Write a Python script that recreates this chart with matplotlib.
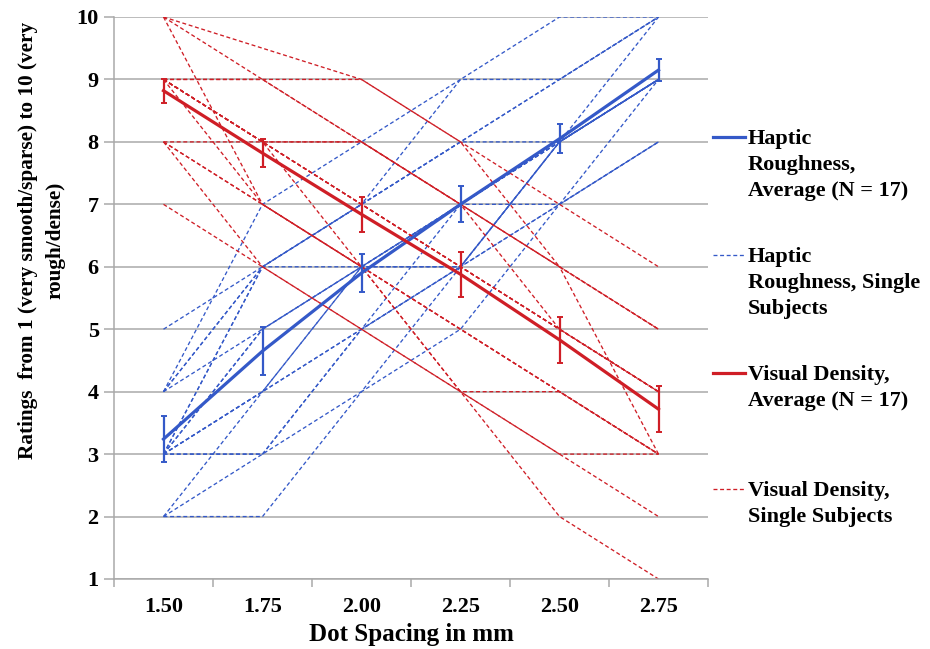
import numpy as np
import matplotlib
import matplotlib.pyplot as plt
from matplotlib.lines import Line2D

matplotlib.use('Agg')

# dot spacing categories (mm)
spacing = ['1.50', '1.75', '2.00', '2.25', '2.50', '2.75']

# group averages and error bars
haptic_mean = [3.24, 4.65, 5.90, 7.00, 8.05, 9.15]
haptic_err = [0.37, 0.39, 0.30, 0.29, 0.23, 0.18]
visual_mean = [8.82, 7.82, 6.84, 5.88, 4.83, 3.72]
visual_err = [0.19, 0.22, 0.28, 0.36, 0.37, 0.37]

# single subject ratings (approximate)
haptic_subjects = [
    [5, 6, 7, 9, 10, 10],
    [4, 7, 8, 9, 9, 10],
    [4, 6, 7, 8, 9, 10],
    [3, 5, 6, 7, 8, 9],
    [3, 5, 6, 7, 8, 9],
    [3, 4, 6, 7, 8, 9],
    [3, 4, 5, 7, 8, 9],
    [3, 6, 6, 6, 7, 8],
    [3, 3, 5, 6, 8, 9],
    [4, 5, 6, 7, 7, 8],
    [4, 6, 7, 8, 8, 9],
    [2, 2, 4, 5, 7, 9],
    [2, 4, 6, 6, 7, 8],
    [2, 3, 4, 6, 8, 9],
    [3, 4, 5, 6, 8, 10],
    [3, 6, 7, 8, 9, 10],
    [3, 3, 5, 6, 8, 9],
]
visual_subjects = [
    [10, 9.5, 9, 8, 7, 6],
    [9, 9, 9, 8, 6, 5],
    [10, 9, 8, 7, 6, 5],
    [10, 7, 6, 5, 4, 3],
    [9, 8, 7, 6, 5, 4],
    [9, 8, 7, 6, 5, 4],
    [9, 8, 7, 6, 5, 4],
    [9, 8, 8, 7, 6, 5],
    [9, 7, 6, 5, 4, 3],
    [8, 8, 8, 7, 6, 3],
    [8, 7, 6, 4, 4, 3],
    [8, 7, 6, 4, 3, 3],
    [8, 6, 5, 4, 2, 1],
    [7, 6, 5, 4, 3, 2],
    [9, 8, 7, 6, 5, 4],
    [9, 8, 6, 5, 4, 3],
    [9, 9, 8, 7, 5, 4],
]

blue = '#3459c8'
red = '#cf1e26'
grid_c = '#a9a9a9'

plt.rcParams['font.family'] = 'Liberation Serif'
plt.rcParams['font.weight'] = 'bold'

fig = plt.figure(figsize=(9.3, 6.49), dpi=100)
ax = fig.add_axes([114 / 930, 1 - 579 / 649, 594 / 930, 562 / 649])

x = np.arange(len(spacing))
dash = (0, (3, 2))

for s in haptic_subjects:
    ax.plot(x, s, color=blue, lw=0.95, linestyle=dash, zorder=2)
for s in visual_subjects:
    ax.plot(x, s, color=red, lw=0.95, linestyle=dash, zorder=2)

ax.errorbar(x, haptic_mean, yerr=haptic_err, color=blue, lw=2.3,
            elinewidth=1.6, capsize=2.5, capthick=1.4, zorder=4)
ax.errorbar(x, visual_mean, yerr=visual_err, color=red, lw=2.3,
            elinewidth=1.6, capsize=2.5, capthick=1.4, zorder=4)

ax.set_xlim(-0.5, 5.5)
ax.set_ylim(1, 10)
ax.set_yticks(range(1, 11))
ax.yaxis.grid(True, color=grid_c, lw=1.1)
ax.set_axisbelow(True)
ax.set_xticks(x)
ax.set_xticklabels(spacing)
ax.set_xticks(np.arange(-0.5, 6, 1), minor=True)
ax.tick_params(axis='x', which='major', length=0, pad=13, labelsize=16)
ax.tick_params(axis='x', which='minor', length=6, color=grid_c, width=1.1)
ax.tick_params(axis='y', length=7, color=grid_c, width=1.1, pad=4,
               labelsize=16)
for side in ['top', 'right']:
    ax.spines[side].set_visible(False)
for side in ['left', 'bottom']:
    ax.spines[side].set_color(grid_c)
    ax.spines[side].set_linewidth(1.1)

ax.set_xlabel('Dot Spacing in mm', fontsize=18, fontweight='bold',
              labelpad=4)
fig.text(42 / 930, 1 - 240 / 649,
         'Ratings  from 1 (very smooth/sparse) to 10 (very\nrough/dense)',
         rotation=90, ha='center', va='center', multialignment='center',
         fontsize=15.3, fontweight='bold', linespacing=1.5)

# legend drawn by hand so the sample line sits on the first text row
entries = [
    ('Haptic\nRoughness,\nAverage (N = 17)', blue, '-', 2.3, 137),
    ('Haptic\nRoughness, Single\nSubjects', blue, dash, 0.95, 255),
    ('Visual Density,\nAverage (N = 17)', red, '-', 2.3, 373),
    ('Visual Density,\nSingle Subjects', red, dash, 0.95, 489),
]
for label, col, ls, lw, ypx in entries:
    yf = 1 - ypx / 649
    fig.add_artist(Line2D([713 / 930, 745 / 930], [yf, yf], color=col,
                          lw=lw, linestyle=ls, transform=fig.transFigure))
    fig.text(748 / 930, yf + 8 / 649, label, ha='left', va='top',
             fontsize=16, fontweight='bold', linespacing=1.4)

fig.savefig('out.png', dpi=100)
